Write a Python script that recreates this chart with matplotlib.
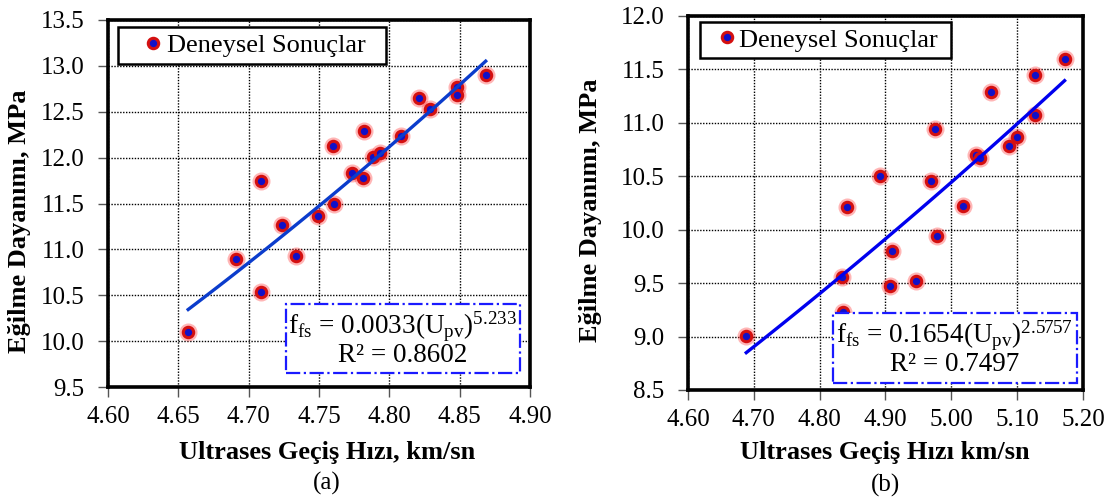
import numpy as np
import matplotlib
matplotlib.use("Agg")
import matplotlib.pyplot as plt
from matplotlib.patches import Rectangle

plt.rcParams["font.family"] = ["Liberation Serif", "DejaVu Serif"]
plt.rcParams["mathtext.fontset"] = "custom"
plt.rcParams["mathtext.rm"] = "Liberation Serif"
plt.rcParams["mathtext.it"] = "Liberation Serif:italic"

# ------------------------------
# data
# ------------------------------
# (a)
upv_a = [4.657, 4.691, 4.7085, 4.709, 4.724, 4.734, 4.749, 4.760, 4.761, 4.7735,
         4.781, 4.782, 4.7885, 4.7935, 4.808, 4.821, 4.829, 4.848, 4.848, 4.8685]
ffs_a = [10.10, 10.89, 11.75, 10.54, 11.27, 10.93, 11.36, 12.13, 11.50, 11.83,
         11.78, 12.29, 12.01, 12.05, 12.24, 12.65, 12.53, 12.77, 12.68, 12.90]
coef_a, exp_a = 0.0033, 5.233
eq_a = r"$\mathrm{f_{fs}}$ = 0.0033(U$_\mathrm{pv}$)$^{\mathrm{5.233}}$" + "\nR² = 0.8602"

# (b)
upv_b = [4.6885, 4.8335, 4.835, 4.841, 4.892, 4.907, 4.910, 4.947, 4.969, 4.975,
         4.978, 5.017, 5.037, 5.043, 5.060, 5.087, 5.099, 5.127, 5.127, 5.172]
ffs_b = [9.01, 9.56, 9.23, 10.21, 10.50, 9.47, 9.80, 9.52, 10.46, 10.94,
         9.94, 10.22, 10.70, 10.67, 11.29, 10.78, 10.87, 11.07, 11.45, 11.60]
coef_b, exp_b = 0.1654, 2.5757
eq_b = r"$\mathrm{f_{fs}}$ = 0.1654(U$_\mathrm{pv}$)$^{\mathrm{2.5757}}$" + "\nR² = 0.7497"

xlabel_a = "Ultrases Geçiş Hızı, km/sn"
xlabel_b = "Ultrases Geçiş Hızı km/sn"
ylabel = "Eğilme Dayanımı, MPa"
legend_label = "Deneysel Sonuçlar"

W, H = 1118, 497
fig = plt.figure(figsize=(W / 100, H / 100), dpi=100)


def px_axes(l, t, r, b):
    return fig.add_axes([l / W, 1 - b / H, (r - l) / W, (b - t) / H])


def draw_panel(ax, x, y, coef, expo, eq, xlim, ylim, xticks, yticks, line_color, box):
    ax.set_xlim(*xlim)
    ax.set_ylim(*ylim)
    ax.set_xticks(xticks)
    ax.set_yticks(yticks)
    ax.set_xticklabels(["{:.2f}".format(v) for v in xticks])
    ax.set_yticklabels(["{:.1f}".format(v) for v in yticks])
    ax.tick_params(labelsize=18, length=7, width=1, direction="out", color="#555555")
    ax.tick_params(axis="y", pad=10)
    ax.tick_params(axis="x", pad=7)
    ax.grid(True, color="black", linestyle=(0, (1, 1.1)), linewidth=1.0)
    ax.set_axisbelow(True)
    for s in ax.spines.values():
        s.set_linewidth(2.6)
        s.set_color("black")

    # glow + marker
    ax.plot(x, y, "o", ms=13, color="#ff3030", alpha=0.35, mew=0, zorder=3)
    ax.plot(x, y, "o", ms=7.5, mfc="#1010c8", mec="#d41010", mew=2.2, zorder=4,
            label=legend_label + box["pad"])

    # power trendline from the coefficients shown on the chart
    xs = np.linspace(min(x), max(x), 50)
    ax.plot(xs, coef * xs ** expo, color=line_color, lw=2.4, zorder=5)

    leg = ax.legend(loc="upper left", bbox_to_anchor=box["leg"], fontsize=19,
                    fancybox=False, framealpha=1, edgecolor="black",
                    handletextpad=box["htp"], handlelength=box["hl"], borderpad=0.25,
                    borderaxespad=0)
    leg.get_frame().set_linewidth(1.8)
    leg.set_zorder(10)

    x0, y0, x1, y1 = box["eq"]
    ax.add_patch(Rectangle((x0, y0), x1 - x0, y1 - y0, transform=ax.transAxes,
                           fc="white", ec="#1a1aff", lw=1.6, ls="-.", zorder=8))
    ax.text((x0 + x1) / 2, (y0 + y1) / 2, eq, transform=ax.transAxes,
            ha="center", va="center", fontsize=19.5, linespacing=0.95, zorder=9)


ax1 = px_axes(108, 20, 530, 387)
draw_panel(ax1, upv_a, ffs_a, coef_a, exp_a, eq_a, (4.60, 4.90), (9.5, 13.5),
           np.arange(4.60, 4.901, 0.05), np.arange(9.5, 13.51, 0.5), "#0b3ccc",
           {"leg": (0.024, 0.981), "eq": (0.421, 0.038, 0.976, 0.226),
            "hl": 2.15, "htp": -0.55, "pad": "  "})

ax2 = px_axes(688, 16, 1083, 390)
draw_panel(ax2, upv_b, ffs_b, coef_b, exp_b, eq_b, (4.60, 5.20), (8.5, 12.0),
           np.arange(4.60, 5.201, 0.10), np.arange(8.5, 12.01, 0.5), "#0000ee",
           {"leg": (0.030, 0.985), "eq": (0.366, 0.019, 0.984, 0.206),
            "hl": 1.55, "htp": -0.32, "pad": " "})

# axis titles and panel letters
fig.text(327 / W, 1 - 452 / H, xlabel_a, ha="center", va="center", fontsize=19, fontweight="bold")
fig.text(885 / W, 1 - 452 / H, xlabel_b, ha="center", va="center", fontsize=19, fontweight="bold")
fig.text(20 / W, 1 - 221 / H, ylabel, ha="center", va="center", rotation=90, fontsize=19, fontweight="bold")
fig.text(591 / W, 1 - 210 / H, ylabel, ha="center", va="center", rotation=90, fontsize=19, fontweight="bold")
fig.text(327 / W, 1 - 483 / H, "(a)", ha="center", va="center", fontsize=18)
fig.text(885 / W, 1 - 485 / H, "(b)", ha="center", va="center", fontsize=18)

fig.savefig("out.png", dpi=100)
